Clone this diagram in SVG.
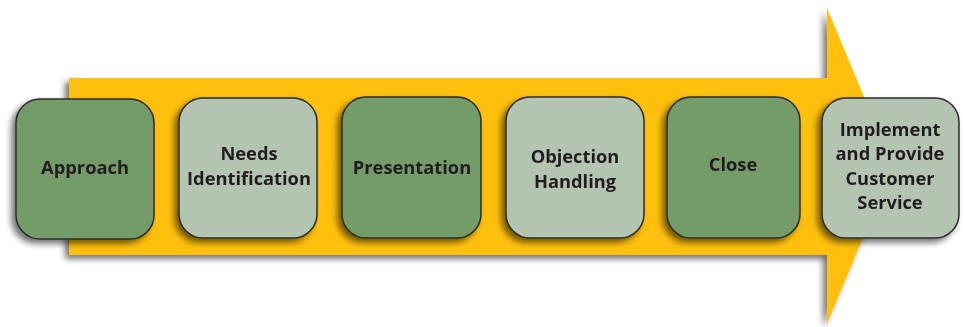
<svg xmlns="http://www.w3.org/2000/svg" width="964" height="327" viewBox="0 0 964 327">
<defs>
<filter id="sh" x="-20%" y="-20%" width="140%" height="140%">
<feGaussianBlur in="SourceAlpha" stdDeviation="3"/>
<feOffset dx="-4" dy="4" result="b"/>
<feComponentTransfer><feFuncA type="linear" slope="0.55"/></feComponentTransfer>
<feMerge><feMergeNode/><feMergeNode in="SourceGraphic"/></feMerge>
</filter>
<style>
.dk{fill:#739c69;stroke:#2b2b2b;stroke-width:1.5}
.lt{fill:#b3c4b0;stroke:#2b2b2b;stroke-width:1.5}
text{font-family:"Open Sans","Noto Sans","Liberation Sans",sans-serif;font-weight:bold;font-size:18.3px;fill:#231f20;text-anchor:middle}
</style>
</defs>
<g id="arrow" filter="url(#sh)">
<polygon points="69,78 827,78 827,8 893,166 827,324 827,255 69,255" fill="#fec010"/>
</g>
<g id="approach" filter="url(#sh)">
<rect class="dk" x="16" y="99" width="138" height="140" rx="24"/>
<text x="85" y="174">Approach</text>
</g>
<g id="needs" filter="url(#sh)">
<rect class="lt" x="179" y="98" width="138" height="140" rx="24"/>
<text x="249" y="160">Needs</text>
<text x="249" y="185">Identification</text>
</g>
<g id="presentation" filter="url(#sh)">
<rect class="dk" x="342" y="97" width="139" height="141" rx="24"/>
<text x="412" y="174">Presentation</text>
</g>
<g id="objection" filter="url(#sh)">
<rect class="lt" x="506" y="97" width="138" height="141" rx="24"/>
<text x="575" y="163">Objection</text>
<text x="575" y="188">Handling</text>
</g>
<g id="close" filter="url(#sh)">
<rect class="dk" x="667" y="97" width="133" height="141" rx="24"/>
<text x="733" y="171">Close</text>
</g>
<g id="implement" filter="url(#sh)">
<rect class="lt" x="822" y="98" width="137" height="140" rx="24"/>
<text x="890" y="136">Implement</text>
<text x="890" y="160">and Provide</text>
<text x="890" y="185">Customer</text>
<text x="890" y="209">Service</text>
</g>
<g id="connectors"></g>
</svg>
